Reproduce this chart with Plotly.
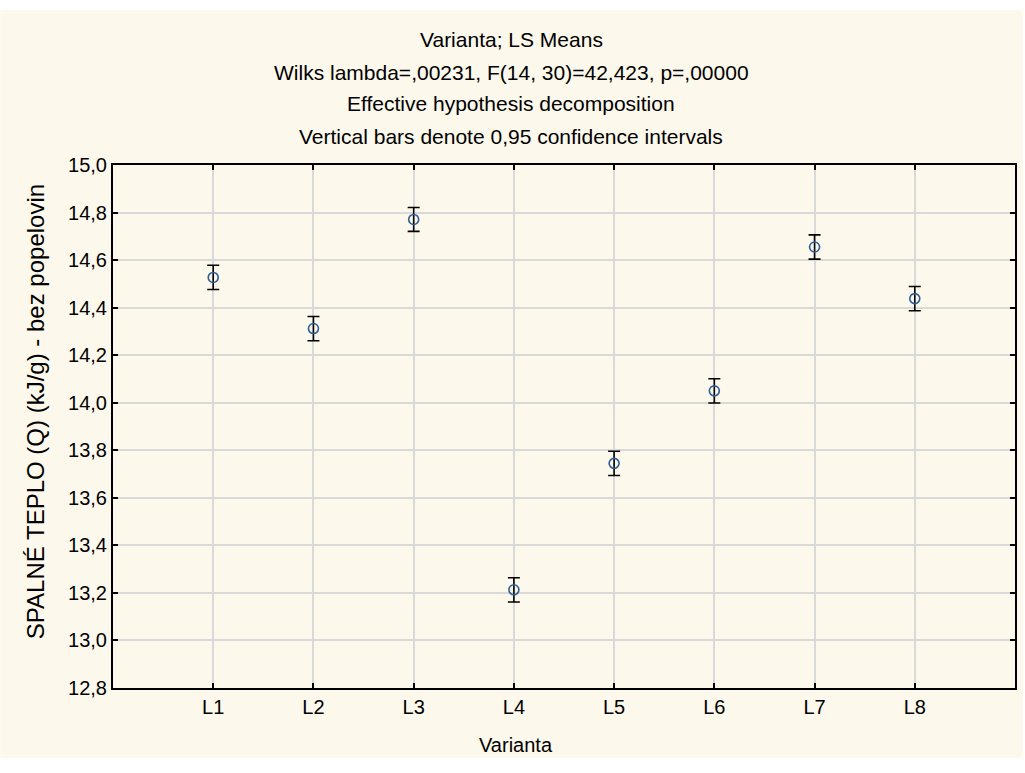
import plotly.graph_objects as go

# LS means of gross calorific value by variant, with 0.95 CI half-widths
categories = ["L1", "L2", "L3", "L4", "L5", "L6", "L7", "L8"]
means = [14.527, 14.312, 14.771, 13.213, 13.745, 14.050, 14.655, 14.438]
ci_half = [0.051, 0.051, 0.050, 0.051, 0.051, 0.051, 0.051, 0.051]

y_ticks = [12.8, 13.0, 13.2, 13.4, 13.6, 13.8, 14.0, 14.2, 14.4, 14.6, 14.8, 15.0]
y_tick_text = [f"{v:.1f}".replace(".", ",") for v in y_ticks]

title_lines = [
    "Varianta; LS Means",
    "Wilks lambda=,00231, F(14, 30)=42,423, p=,00000",
    "Effective hypothesis decomposition",
    "Vertical bars denote 0,95 confidence intervals",
]
x_title = "Varianta"
y_title = "SPALNÉ TEPLO (Q) (kJ/g) - bez popelovin"

xpos = list(range(1, len(categories) + 1))

# plot area geometry in pixels
W, H = 1025, 773
L, R, T, B = 113, 8, 165, 85
PW, PH = W - L - R, H - T - B


def px_x(px):
    return (px - L) / PW


def px_y(py):
    return (H - B - py) / PH


fig = go.Figure()
fig.add_trace(go.Scatter(
    x=xpos, y=means, mode="markers",
    marker=dict(symbol="circle-open", size=10, color="#2F5D94",
                line=dict(width=1.6, color="#2F5D94")),
    error_y=dict(type="data", array=ci_half, visible=True,
                 color="black", thickness=1.6, width=6),
    showlegend=False,
))

FONT = "Liberation Sans, Arial, sans-serif"

fig.update_layout(
    width=W, height=H,
    paper_bgcolor="white", plot_bgcolor="white",
    margin=dict(l=L, r=R, t=T, b=B),
    font=dict(family=FONT, color="black"),
    xaxis=dict(
        range=[0, 9], tickmode="array", tickvals=xpos, ticktext=categories,
        showgrid=True, gridcolor="#D9D9D9", gridwidth=1.5,
        showline=True, linecolor="black", linewidth=2, mirror="ticks",
        ticks="inside", ticklen=5, tickcolor="black", tickwidth=1.5,
        tickfont=dict(size=20), zeroline=False,
    ),
    yaxis=dict(
        range=[12.8, 15.0], tickmode="array", tickvals=y_ticks, ticktext=y_tick_text,
        showgrid=True, gridcolor="#D9D9D9", gridwidth=1.5,
        showline=True, linecolor="black", linewidth=2, mirror="ticks",
        ticks="inside", ticklen=5, tickcolor="black", tickwidth=1.5,
        tickfont=dict(size=20), zeroline=False,
    ),
    shapes=[dict(type="rect", xref="paper", yref="paper", layer="below",
                 x0=px_x(0), x1=px_x(W), y0=px_y(758), y1=px_y(10),
                 fillcolor="#FCF8EC", line=dict(width=0))],
)

for i, line in enumerate(title_lines):
    fig.add_annotation(
        text=line, xref="paper", yref="paper",
        x=px_x(512), y=px_y(40 + 32 * i),
        showarrow=False, xanchor="center", yanchor="middle",
        font=dict(size=21, family=FONT, color="black"),
    )

fig.add_annotation(
    text=x_title, xref="paper", yref="paper",
    x=px_x(517), y=px_y(745),
    showarrow=False, xanchor="center", yanchor="middle",
    font=dict(size=20, family=FONT, color="black"),
)
fig.add_annotation(
    text=y_title, xref="paper", yref="paper",
    x=px_x(35), y=px_y(412), textangle=-90,
    showarrow=False, xanchor="center", yanchor="middle",
    font=dict(size=24, family=FONT, color="black"),
)

fig.write_html("out.html")
